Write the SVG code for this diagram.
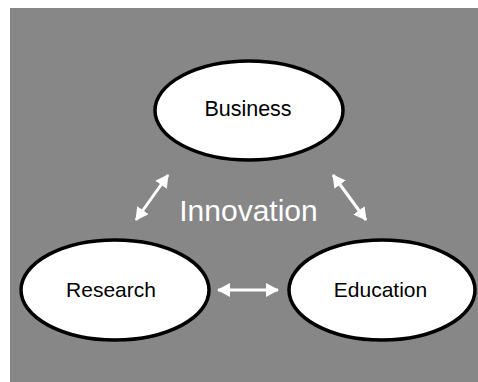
<svg xmlns="http://www.w3.org/2000/svg" width="478" height="382" viewBox="0 0 478 382">
  <style>
    .node ellipse { fill: #ffffff; stroke: #000000; stroke-width: 3.5; }
    .node text { font-family: "Liberation Sans", Arial, Helvetica, sans-serif; font-size: 21px; fill: #000000; text-anchor: middle; }
    .title { font-family: "Liberation Sans", Arial, Helvetica, sans-serif; font-size: 30px; fill: #ffffff; text-anchor: middle; }
    .link { stroke: #ffffff; stroke-width: 3; fill: none; marker-start: url(#head); marker-end: url(#head); }
  </style>
  <defs>
    <marker id="head" viewBox="0 0 13 14" refX="12" refY="7" markerWidth="13" markerHeight="14" markerUnits="userSpaceOnUse" orient="auto-start-reverse">
      <path d="M0,0 L13,7 L0,14 Z" fill="#ffffff"/>
    </marker>
  </defs>

  <!-- backdrop -->
  <rect x="10" y="8" width="468" height="374" fill="#878787"/>

  <!-- connectors -->
  <g id="connectors">
    <line class="link" x1="136" y1="220" x2="168" y2="175"/>
    <line class="link" x1="333" y1="175" x2="366" y2="220"/>
    <line class="link" x1="218" y1="290" x2="278" y2="290"/>
  </g>

  <text class="title" x="248.5" y="221">Innovation</text>

  <g id="business" class="node">
    <ellipse cx="249" cy="110.5" rx="94" ry="49.5"/>
    <text x="248" y="116" style="font-size:21.5px">Business</text>
  </g>

  <g id="research" class="node">
    <ellipse cx="115" cy="290" rx="94" ry="50"/>
    <text x="111" y="297">Research</text>
  </g>

  <g id="education" class="node">
    <ellipse cx="382" cy="290" rx="93" ry="50"/>
    <text x="380.5" y="297">Education</text>
  </g>
</svg>
